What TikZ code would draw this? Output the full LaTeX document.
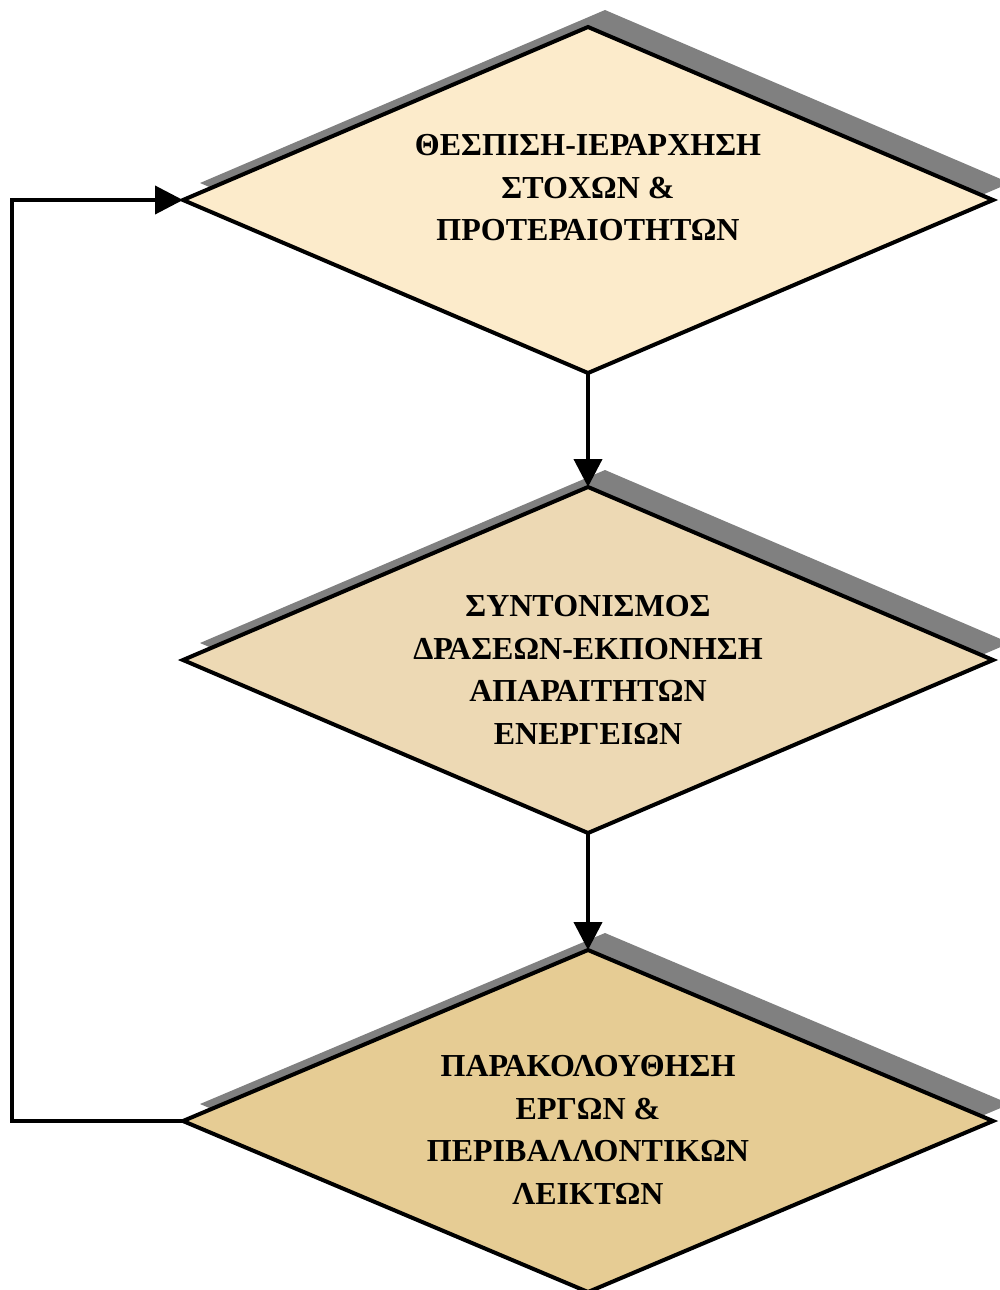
\documentclass[tikz,border=0pt]{standalone}
\usepackage{fontspec}
\setmainfont{Liberation Serif}
\usetikzlibrary{shapes.geometric,arrows.meta}
\definecolor{cA}{HTML}{FCEBCB}
\definecolor{cB}{HTML}{EDD9B4}
\definecolor{cC}{HTML}{E6CC94}
\definecolor{shd}{HTML}{808080}
\tikzset{
  dia/.style={diamond, draw=black, line width=4pt, inner sep=0pt, outer sep=0pt, minimum width=810pt, minimum height=346pt},
  shadowd/.style={diamond, fill=shd, draw=none, inner sep=0pt, outer sep=0pt, minimum width=810pt, minimum height=346pt},
  txt/.style={align=center, font=\fontsize{32}{42.5}\selectfont\bfseries, inner sep=0pt},
  arr/.style={line width=4pt, line join=miter, -{Triangle[length=28pt,width=28pt]}}
}
\begin{document}
\begin{tikzpicture}[x=1pt,y=-1pt]
\useasboundingbox (0,0) rectangle (999,1290);
% shadows
\node[shadowd] (s1) at (605,183) {};
\node[shadowd] (s2) at (605,643) {};
\node[shadowd, minimum height=342pt] (s3) at (605,1104) {};
% diamonds
\node[dia, fill=cA] (d1) at (588,200) {};
\node[dia, fill=cB] (d2) at (588,660) {};
\node[dia, fill=cC, minimum height=342pt] (d3) at (588,1121) {};
% texts
\node[txt] (t1) at (588,188) {ΘΕΣΠΙΣΗ-ΙΕΡΑΡΧΗΣΗ\\ΣΤΟΧΩΝ \&\\ΠΡΟΤΕΡΑΙΟΤΗΤΩΝ};
\node[txt] (t2) at (588,670) {ΣΥΝΤΟΝΙΣΜΟΣ\\ΔΡΑΣΕΩΝ-ΕΚΠΟΝΗΣΗ\\ΑΠΑΡΑΙΤΗΤΩΝ\\ΕΝΕΡΓΕΙΩΝ};
\node[txt] (t3) at (588,1130) {ΠΑΡΑΚΟΛΟΥΘΗΣΗ\\ΕΡΓΩΝ \&\\ΠΕΡΙΒΑΛΛΟΝΤΙΚΩΝ\\ΛΕΙΚΤΩΝ};
% connectors
\draw[arr] (d1.south) -- (d2.north);
\draw[arr] (d2.south) -- (d3.north);
\coordinate (fb) at (12,1121);
\draw[arr] (d3.west) -- (fb) |- (d1.west);
\end{tikzpicture}
\end{document}
